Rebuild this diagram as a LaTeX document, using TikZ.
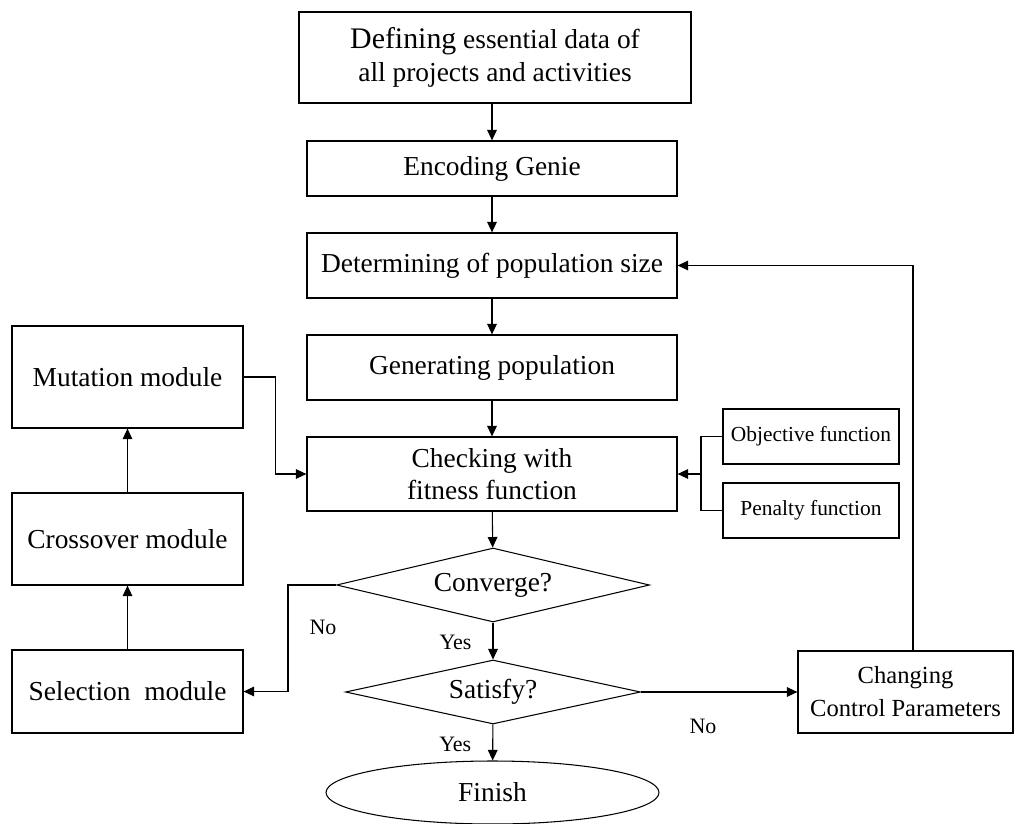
\documentclass[tikz,border=0pt]{standalone}
\usepackage{fontspec}
\setmainfont{Liberation Serif}
\usetikzlibrary{arrows.meta, positioning, shapes.geometric}

\begin{document}
\begin{tikzpicture}[
        box/.style={rectangle, draw, line width=0.7pt, align=center, inner sep=1pt, font=\fontsize{15.6}{18.5}\selectfont},
        smallbox/.style={rectangle, draw, line width=0.7pt, inner sep=1pt, minimum width=3.52cm, minimum height=1.1cm, font=\fontsize{12.2}{14}\selectfont},
        decision/.style={diamond, draw, line width=0.6pt, inner sep=0pt, shape aspect=4.2, font=\fontsize{15.6}{18.5}\selectfont},
        lbl/.style={inner sep=0pt, font=\fontsize{12.5}{14}\selectfont},
        arr/.style={line width=0.6pt, -{Triangle[length=6pt, width=5.5pt]}},
        line/.style={line width=0.6pt}
    ]
        \useasboundingbox (0, 0) rectangle (20.42, -16.46);

        % main column
        \node[box, minimum width=7.84cm, minimum height=1.82cm] (define) at (9.9, -1.15) {{\fontsize{17}{18.5}\selectfont Defining} essential data of\\all projects and activities};
        \node[box, minimum width=7.4cm, minimum height=1.1cm] (encode) at (9.84, -3.37) {Encoding Genie};
        \node[box, minimum width=7.4cm, minimum height=1.3cm] (popsize) at (9.84, -5.31) {Determining of population size};
        \node[box, minimum width=7.4cm, minimum height=1.3cm] (generate) at (9.84, -7.35) {Generating population};
        \node[box, minimum width=7.4cm, minimum height=1.48cm] (fitness) at (9.84, -9.48) {Checking with\\fitness function};
        \node[decision, minimum width=6.26cm, minimum height=1.48cm] (converge) at (9.86, -11.7) {Converge?};
        \node[decision, minimum width=5.9cm, minimum height=1.28cm] (satisfy) at (9.86, -13.84) {Satisfy?};
        \node[ellipse, draw, line width=0.6pt, inner sep=0pt, minimum width=6.66cm, minimum height=1.26cm, font=\fontsize{15.6}{18.5}\selectfont] (finish) at (9.85, -15.85) {Finish};

        % genetic operators
        \node[box, minimum width=4.62cm, minimum height=2.04cm] (mutation) at (2.55, -7.54) {Mutation module};
        \node[box, minimum width=4.62cm, minimum height=1.84cm] (crossover) at (2.55, -10.78) {Crossover module};
        \node[box, minimum width=4.62cm, minimum height=1.66cm] (selection) at (2.55, -13.83) {Selection\ \ module};

        % fitness parts
        \node[smallbox] (objective) at (16.22, -8.73) {Objective function};
        \node[smallbox] (penalty) at (16.22, -10.21) {Penalty function};
        \coordinate (join) at (14.02, -9.48);

        \node[box, minimum width=4.3cm, minimum height=1.64cm, font=\fontsize{14}{18.7}\selectfont] (control) at (18.11, -13.84) {Changing\\Control Parameters};

        \draw[arr] (define.south -| encode.north) -- (encode);
        \draw[arr] (encode) -- (popsize);
        \draw[arr] (popsize) -- (generate);
        \draw[arr] (generate) -- (fitness);
        \draw[arr] (fitness) -- (converge);
        \draw[arr] (converge) -- (satisfy) node[lbl, pos=0.53, left=0.42cm] {Yes};
        \draw[arr] (satisfy) -- (finish) node[lbl, pos=0.55, left=0.42cm] {Yes};

        \draw[arr] (converge.west) -- ++(-0.96, 0) |- (selection.east) node[lbl, pos=0.2, right=0.42cm] {No};
        \draw[arr] (selection) -- (crossover);
        \draw[arr] (crossover) -- (mutation);
        \draw[arr] (mutation.east) -- ++(0.64, 0) |- (fitness.west);

        \draw[line] (objective.west) -| (join) |- (penalty.west);
        \draw[arr] (join) -- (fitness.east);

        \draw[arr] (satisfy.east) -- (control.west);
        \node[lbl] (no2) at (14.06, -14.52) {No};
        \draw[arr] ([xshift=0.15cm]control.north) |- (popsize.east);
    \end{tikzpicture}
\end{document}
